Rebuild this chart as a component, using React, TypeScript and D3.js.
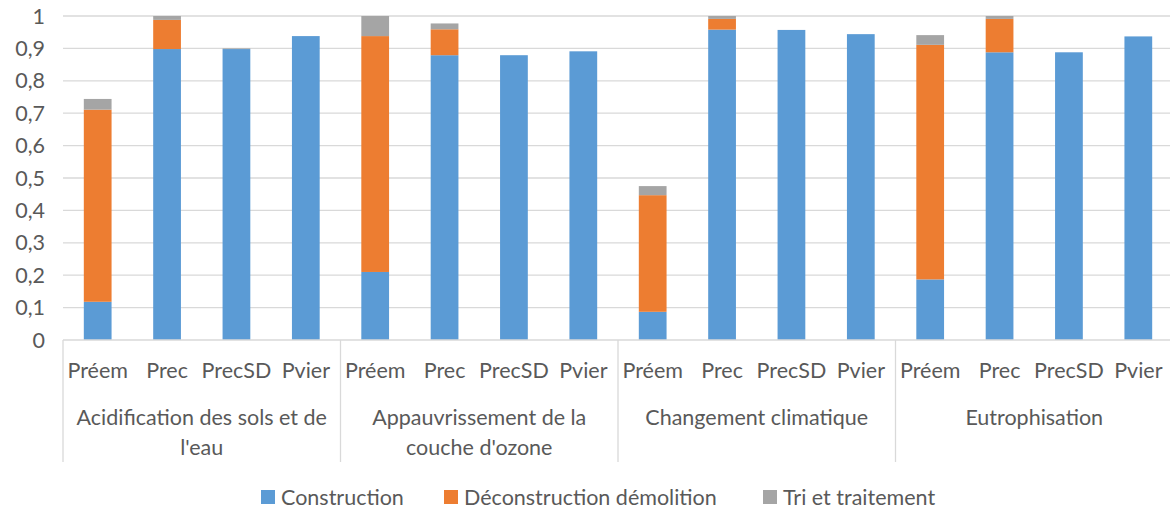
import React from "react";
import * as d3 from "d3";

const groups: string[][] = [
  ["Acidification des sols et de", "l'eau"],
  ["Appauvrissement de la", "couche d'ozone"],
  ["Changement climatique"],
  ["Eutrophisation"],
];
const scenarios = ["Préem", "Prec", "PrecSD", "Pvier"];
const seriesNames = ["Construction", "Déconstruction démolition", "Tri et traitement"];
const seriesColors = ["#5b9bd5", "#ed7d31", "#a5a5a5"];

// values listed group by group, scenario by scenario
const construction = [
  0.118, 0.898, 0.898, 0.938,
  0.21, 0.879, 0.879, 0.891,
  0.087, 0.958, 0.957, 0.944,
  0.187, 0.888, 0.888, 0.937,
];
const deconstruction = [
  0.593, 0.09, 0, 0,
  0.728, 0.08, 0, 0,
  0.36, 0.033, 0, 0,
  0.724, 0.103, 0, 0,
];
const triTraitement = [
  0.033, 0.012, 0.002, 0,
  0.062, 0.018, 0, 0,
  0.028, 0.009, 0, 0,
  0.03, 0.009, 0, 0,
];
const yTicks = [0, 0.1, 0.2, 0.3, 0.4, 0.5, 0.6, 0.7, 0.8, 0.9, 1];

const W = 1170;
const H = 510;
const FONT = "Lato, 'Open Sans', sans-serif";
const TXT = "#595959";
const FS = 21.5;

export default function App() {
  const left = 63;
  const right = 1173;
  const top = 16;
  const bottom = 340;

  const cats = groups.flatMap((_, gi) => scenarios.map((s) => `${gi}|${s}`));
  const x = d3.scaleBand<string>().domain(cats).range([left, right]).paddingInner(0.6).paddingOuter(0.3);
  const y = d3.scaleLinear().domain([0, 1]).range([bottom, top]);
  const gx = d3.scaleBand<number>().domain(groups.map((_, i) => i)).range([left, right]);

  const rows = cats.map((c, i) => ({
    key: c,
    Construction: construction[i],
    "Déconstruction démolition": deconstruction[i],
    "Tri et traitement": triTraitement[i],
  }));
  const stack = d3.stack<any>().keys(seriesNames)(rows);
  const fmt = (v: number) => (v === 0 || v === 1 ? String(v) : d3.format(".1f")(v).replace(".", ","));

  const legendItems = [
    { x: 261, name: seriesNames[0], color: seriesColors[0] },
    { x: 444, name: seriesNames[1], color: seriesColors[1] },
    { x: 763, name: seriesNames[2], color: seriesColors[2] },
  ];

  return (
    <svg width={W} height={H} style={{ display: "block", position: "absolute", left: 0, top: 0 }} fontFamily={FONT}>
      <rect width={W} height={H} fill="#fff" />
      {yTicks.map((t) => (
        <g key={t}>
          {t > 0 && <line x1={left} x2={right} y1={y(t)} y2={y(t)} stroke="#d9d9d9" strokeWidth={1.3} />}
          <text x={45} y={y(t)} dy="0.35em" textAnchor="end" fontSize={FS} fill={TXT}>
            {fmt(t)}
          </text>
        </g>
      ))}
      {stack.map((s, si) => (
        <g key={s.key} fill={seriesColors[si]}>
          {s.map((d, i) =>
            d[1] - d[0] > 0 ? (
              <rect
                key={i}
                x={x(cats[i])!}
                width={x.bandwidth()}
                y={y(d[1])}
                height={y(d[0]) - y(d[1])}
              />
            ) : null
          )}
        </g>
      ))}
      <line x1={left} x2={right} y1={bottom} y2={bottom} stroke="#d9d9d9" strokeWidth={1.3} />
      {groups.map((_, gi) => (
        <line key={gi} x1={gx(gi)!} x2={gx(gi)!} y1={bottom} y2={462} stroke="#d9d9d9" strokeWidth={1.3} />
      ))}
      {cats.map((c) => (
        <text key={c} x={x(c)! + x.bandwidth() / 2} y={370} dy="0.35em" textAnchor="middle" fontSize={FS} fill={TXT}>
          {c.split("|")[1]}
        </text>
      ))}
      {groups.map((lines, gi) =>
        lines.map((ln, li) => (
          <text
            key={gi + "-" + li}
            x={gx(gi)! + gx.bandwidth() / 2}
            y={417 + li * 30}
            dy="0.35em"
            textAnchor="middle"
            fontSize={FS}
            fill={TXT}
          >
            {ln}
          </text>
        ))
      )}
      {legendItems.map((it) => (
        <g key={it.name}>
          <rect x={it.x} y={490} width={14} height={14} fill={it.color} />
          <text x={it.x + 20} y={497} dy="0.35em" fontSize={FS} fill={TXT}>
            {it.name}
          </text>
        </g>
      ))}
    </svg>
  );
}
